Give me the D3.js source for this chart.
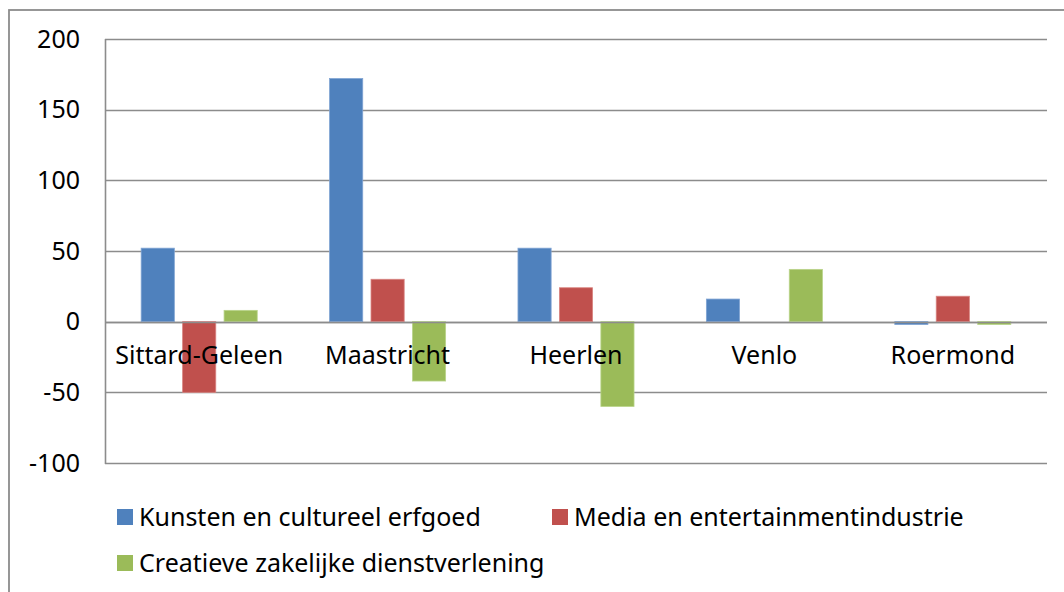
<!DOCTYPE html>
<html>
<head>
<meta charset="utf-8">
<script src="https://cdn.jsdelivr.net/npm/d3@7"></script>
<style>
  html, body { margin: 0; padding: 0; background: #fff; }
  svg { display: block; }
  text { font-family: "Noto Sans", "Open Sans", sans-serif; fill: #000; }
</style>
</head>
<body>
<script>
const categories = ["Sittard-Geleen", "Maastricht", "Heerlen", "Venlo", "Roermond"];
const seriesNames = ["Kunsten en cultureel erfgoed", "Media en entertainmentindustrie", "Creatieve zakelijke dienstverlening"];
const kunsten = [52, 172, 52, 16, -2];
const media = [-50, 30, 24, 0, 18];
const creatief = [8, -42, -60, 37, -2];
const yTicks = [-100, -50, 0, 50, 100, 150, 200];
const colors = ["#4F81BD", "#C0504D", "#9BBB59"];
const strokes = ["#7FA3D3", "#D98481", "#B9D48A"];

const seriesValues = [kunsten, media, creatief];
const W = 1064, H = 592;
const FS = 25;
const svg = d3.select("body").append("svg").attr("width", W).attr("height", H);

// outer chart border
svg.append("rect").attr("x", 9).attr("y", 10).attr("width", W + 10).attr("height", H + 10)
  .attr("fill", "none").attr("stroke", "#8C8C8C").attr("stroke-width", 1.8);

const plot = { left: 105, right: 1047, top: 39, bottom: 463 };
const y = d3.scaleLinear().domain([-100, 200]).range([plot.bottom, plot.top]);
const x = d3.scaleBand().domain(categories).range([plot.left, plot.right]).paddingInner(0).paddingOuter(0);
const groupFrac = 0.66;
const xs = d3.scaleBand().domain(d3.range(seriesNames.length))
  .range([0, x.bandwidth() * groupFrac]).paddingInner(0.2).paddingOuter(0.1);
const groupOffset = (x.bandwidth() * (1 - groupFrac)) / 2;

// gridlines
svg.append("g").selectAll("line").data(yTicks).join("line")
  .attr("x1", plot.left).attr("x2", plot.right)
  .attr("y1", d => Math.round(y(d)) + 0.5).attr("y2", d => Math.round(y(d)) + 0.5)
  .attr("stroke", "#8C8C8C").attr("stroke-width", 1.6);

// y axis line
svg.append("line").attr("x1", plot.left + 0.5).attr("x2", plot.left + 0.5)
  .attr("y1", plot.top).attr("y2", plot.bottom + 1)
  .attr("stroke", "#8C8C8C").attr("stroke-width", 1.6);

// y tick labels
svg.append("g").selectAll("text").data(yTicks).join("text")
  .attr("x", 80).attr("y", d => y(d)).attr("dy", "0.35em")
  .attr("text-anchor", "end").attr("font-size", FS)
  .text(d => d);

// bars
seriesValues.forEach((vals, si) => {
  svg.append("g").selectAll("rect").data(vals).join("rect")
    .attr("x", (d, i) => x(categories[i]) + groupOffset + xs(si))
    .attr("width", xs.bandwidth())
    .attr("y", d => y(Math.max(0, d)))
    .attr("height", d => Math.abs(y(d) - y(0)))
    .attr("fill", colors[si])
    .attr("stroke", strokes[si]).attr("stroke-width", 0.8);
});

// redraw zero line on top
svg.append("line").attr("x1", plot.left).attr("x2", plot.right)
  .attr("y1", Math.round(y(0)) + 0.5).attr("y2", Math.round(y(0)) + 0.5)
  .attr("stroke", "#8C8C8C").attr("stroke-width", 1.6);

// category labels
svg.append("g").selectAll("text").data(categories).join("text")
  .attr("x", d => x(d) + x.bandwidth() / 2).attr("y", y(0) + 34)
  .attr("dy", "0.35em").attr("text-anchor", "middle").attr("font-size", FS)
  .text(d => d);

// legend
const legendPos = [[117, 517], [552, 517], [117, 563]];
seriesNames.forEach((name, i) => {
  const [lx, ly] = legendPos[i];
  svg.append("rect").attr("x", lx).attr("y", ly - 8).attr("width", 16).attr("height", 16)
    .attr("fill", colors[i]);
  svg.append("text").attr("x", lx + 22).attr("y", ly).attr("dy", "0.35em")
    .attr("font-size", FS).text(name);
});
</script>
</body>
</html>
